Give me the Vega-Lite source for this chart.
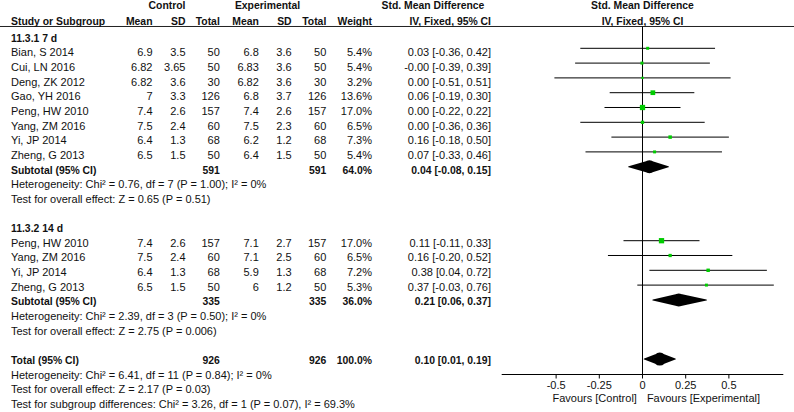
{
  "$schema": "https://vega.github.io/schema/vega-lite/v6.json",
  "width": 794,
  "height": 412,
  "padding": 0,
  "autosize": "none",
  "background": "white",
  "config": {"view": {"stroke": null}},
  "datasets": {
    "rows": [
      {"row": -1.15, "kind": "head", "name": "Study or Subgroup", "cm": "Mean", "csd": "SD", "cn": "Total", "em": "Mean", "esd": "SD", "en": "Total", "wt": "Weight", "ci": "IV, Fixed, 95% CI"},
      {"row": 0, "kind": "group", "name": "11.3.1 7 d"},
      {"row": 1, "kind": "study", "name": "Bian, S 2014", "cm": "6.9", "csd": "3.5", "cn": "50", "em": "6.8", "esd": "3.6", "en": "50", "wt": "5.4%", "ci": "0.03 [-0.36, 0.42]", "smd": 0.03, "lo": -0.36, "hi": 0.42, "w": 5.4},
      {"row": 2, "kind": "study", "name": "Cui, LN 2016", "cm": "6.82", "csd": "3.65", "cn": "50", "em": "6.83", "esd": "3.6", "en": "50", "wt": "5.4%", "ci": "-0.00 [-0.39, 0.39]", "smd": -0.003, "lo": -0.39, "hi": 0.39, "w": 5.4},
      {"row": 3, "kind": "study", "name": "Deng, ZK 2012", "cm": "6.82", "csd": "3.6", "cn": "30", "em": "6.82", "esd": "3.6", "en": "30", "wt": "3.2%", "ci": "0.00 [-0.51, 0.51]", "smd": 0.0, "lo": -0.51, "hi": 0.51, "w": 3.2},
      {"row": 4, "kind": "study", "name": "Gao, YH 2016", "cm": "7", "csd": "3.3", "cn": "126", "em": "6.8", "esd": "3.7", "en": "126", "wt": "13.6%", "ci": "0.06 [-0.19, 0.30]", "smd": 0.06, "lo": -0.19, "hi": 0.30, "w": 13.6},
      {"row": 5, "kind": "study", "name": "Peng, HW 2010", "cm": "7.4", "csd": "2.6", "cn": "157", "em": "7.4", "esd": "2.6", "en": "157", "wt": "17.0%", "ci": "0.00 [-0.22, 0.22]", "smd": 0.0, "lo": -0.22, "hi": 0.22, "w": 17.0},
      {"row": 6, "kind": "study", "name": "Yang, ZM 2016", "cm": "7.5", "csd": "2.4", "cn": "60", "em": "7.5", "esd": "2.3", "en": "60", "wt": "6.5%", "ci": "0.00 [-0.36, 0.36]", "smd": 0.0, "lo": -0.36, "hi": 0.36, "w": 6.5},
      {"row": 7, "kind": "study", "name": "Yi, JP 2014", "cm": "6.4", "csd": "1.3", "cn": "68", "em": "6.2", "esd": "1.2", "en": "68", "wt": "7.3%", "ci": "0.16 [-0.18, 0.50]", "smd": 0.16, "lo": -0.18, "hi": 0.50, "w": 7.3},
      {"row": 8, "kind": "study", "name": "Zheng, G 2013", "cm": "6.5", "csd": "1.5", "cn": "50", "em": "6.4", "esd": "1.5", "en": "50", "wt": "5.4%", "ci": "0.07 [-0.33, 0.46]", "smd": 0.07, "lo": -0.33, "hi": 0.46, "w": 5.4},
      {"row": 9, "kind": "pooled", "name": "Subtotal (95% CI)", "cn": "591", "en": "591", "wt": "64.0%", "ci": "0.04 [-0.08, 0.15]", "smd": 0.04, "lo": -0.08, "hi": 0.15},
      {"row": 10, "kind": "note", "name": "Heterogeneity: Chi² = 0.76, df = 7 (P = 1.00); I² = 0%"},
      {"row": 11, "kind": "note", "name": "Test for overall effect: Z = 0.65 (P = 0.51)"},
      {"row": 13, "kind": "group", "name": "11.3.2 14 d"},
      {"row": 14, "kind": "study", "name": "Peng, HW 2010", "cm": "7.4", "csd": "2.6", "cn": "157", "em": "7.1", "esd": "2.7", "en": "157", "wt": "17.0%", "ci": "0.11 [-0.11, 0.33]", "smd": 0.11, "lo": -0.11, "hi": 0.33, "w": 17.0},
      {"row": 15, "kind": "study", "name": "Yang, ZM 2016", "cm": "7.5", "csd": "2.4", "cn": "60", "em": "7.1", "esd": "2.5", "en": "60", "wt": "6.5%", "ci": "0.16 [-0.20, 0.52]", "smd": 0.16, "lo": -0.20, "hi": 0.52, "w": 6.5},
      {"row": 16, "kind": "study", "name": "Yi, JP 2014", "cm": "6.4", "csd": "1.3", "cn": "68", "em": "5.9", "esd": "1.3", "en": "68", "wt": "7.2%", "ci": "0.38 [0.04, 0.72]", "smd": 0.38, "lo": 0.04, "hi": 0.72, "w": 7.2},
      {"row": 17, "kind": "study", "name": "Zheng, G 2013", "cm": "6.5", "csd": "1.5", "cn": "50", "em": "6", "esd": "1.2", "en": "50", "wt": "5.3%", "ci": "0.37 [-0.03, 0.76]", "smd": 0.37, "lo": -0.03, "hi": 0.76, "w": 5.3},
      {"row": 18, "kind": "pooled", "name": "Subtotal (95% CI)", "cn": "335", "en": "335", "wt": "36.0%", "ci": "0.21 [0.06, 0.37]", "smd": 0.21, "lo": 0.06, "hi": 0.37},
      {"row": 19, "kind": "note", "name": "Heterogeneity: Chi² = 2.39, df = 3 (P = 0.50); I² = 0%"},
      {"row": 20, "kind": "note", "name": "Test for overall effect: Z = 2.75 (P = 0.006)"},
      {"row": 22, "kind": "pooled", "name": "Total (95% CI)", "cn": "926", "en": "926", "wt": "100.0%", "ci": "0.10 [0.01, 0.19]", "smd": 0.10, "lo": 0.01, "hi": 0.19},
      {"row": 23, "kind": "note", "name": "Heterogeneity: Chi² = 6.41, df = 11 (P = 0.84); I² = 0%"},
      {"row": 24, "kind": "note", "name": "Test for overall effect: Z = 2.17 (P = 0.03)"},
      {"row": 25, "kind": "note", "name": "Test for subgroup differences: Chi² = 3.26, df = 1 (P = 0.07), I² = 69.3%"}
    ],
    "heads": [
      {"row": -2.2, "control": "Control", "exp": "Experimental", "est": "Std. Mean Difference", "plot": "Std. Mean Difference"},
      {"row": -1.15, "plot": "IV, Fixed, 95% CI"}
    ],
    "favours": [
      {"row": 24.57, "ctrl": "Favours [Control]", "expt": "Favours [Experimental]"}
    ],
    "ticks": [
      {"v": -0.5, "label": "-0.5"},
      {"v": -0.25, "label": "-0.25"},
      {"v": 0, "label": "0"},
      {"v": 0.25, "label": "0.25"},
      {"v": 0.5, "label": "0.5"}
    ],
    "axisline": [
      {"from": -0.815, "to": 0.815}
    ]
  },
  "layer": [
    {
      "data": {"values": [{"line": "header rule"}]},
      "mark": {"type": "rule", "color": "#222", "strokeWidth": 1},
      "encoding": {
        "y": {"datum": -0.833, "type": "quantitative", "scale": {"domain": [-2.6416, 25.4814], "reverse": true, "nice": false, "zero": false}, "axis": null}
      }
    },
    {
      "data": {"values": [{"ref": 0}]},
      "mark": {"type": "rule", "color": "#000", "strokeWidth": 1},
      "encoding": {
        "x": {"field": "ref", "type": "quantitative", "scale": {"domain": [-0.815, 0.815], "range": [501.7, 783.3], "nice": false, "zero": false}, "axis": null},
        "y": {"datum": -0.833, "type": "quantitative", "scale": {"domain": [-2.6416, 25.4814], "reverse": true, "nice": false, "zero": false}, "axis": null},
        "y2": {"datum": 22.922}
      }
    },
    {
      "data": {"name": "axisline"},
      "mark": {"type": "rule", "color": "#000", "strokeWidth": 1},
      "encoding": {
        "x": {"field": "from", "type": "quantitative", "scale": {"domain": [-0.815, 0.815], "range": [501.7, 783.3], "nice": false, "zero": false}, "axis": null},
        "x2": {"field": "to"},
        "y": {"datum": 22.922, "type": "quantitative", "scale": {"domain": [-2.6416, 25.4814], "reverse": true, "nice": false, "zero": false}, "axis": null}
      }
    },
    {
      "data": {"name": "ticks"},
      "mark": {"type": "rule", "color": "#000", "strokeWidth": 1},
      "encoding": {
        "x": {"field": "v", "type": "quantitative", "scale": {"domain": [-0.815, 0.815], "range": [501.7, 783.3], "nice": false, "zero": false}, "axis": null},
        "y": {"datum": 22.922, "type": "quantitative", "scale": {"domain": [-2.6416, 25.4814], "reverse": true, "nice": false, "zero": false}, "axis": null},
        "y2": {"datum": 23.195}
      }
    },
    {
      "data": {"name": "ticks"},
      "mark": {"type": "text", "align": "center", "baseline": "middle", "font": "Liberation Sans", "color": "#111", "fontSize": 11},
      "encoding": {
        "x": {"field": "v", "type": "quantitative", "scale": {"domain": [-0.815, 0.815], "range": [501.7, 783.3], "nice": false, "zero": false}, "axis": null},
        "y": {"datum": 23.724, "type": "quantitative", "scale": {"domain": [-2.6416, 25.4814], "reverse": true, "nice": false, "zero": false}, "axis": null},
        "text": {"field": "label", "type": "nominal"}
      }
    },
    {
      "data": {"name": "rows"},
      "transform": [{"filter": "datum.kind === 'study'"}],
      "mark": {"type": "rule", "color": "#000", "strokeWidth": 1},
      "encoding": {
        "x": {"field": "lo", "type": "quantitative", "scale": {"domain": [-0.815, 0.815], "range": [501.7, 783.3], "nice": false, "zero": false}, "axis": null},
        "x2": {"field": "hi"},
        "y": {"field": "row", "type": "quantitative", "scale": {"domain": [-2.2635, 25.5745], "reverse": true, "nice": false, "zero": false}, "axis": null}
      }
    },
    {
      "data": {"name": "rows"},
      "transform": [{"filter": "datum.kind === 'study'"}],
      "mark": {"type": "point", "shape": "square", "filled": true, "color": "#00cc00", "opacity": 1, "strokeWidth": 0},
      "encoding": {
        "x": {"field": "smd", "type": "quantitative", "scale": {"domain": [-0.815, 0.815], "range": [501.7, 783.3], "nice": false, "zero": false}, "axis": null},
        "y": {"field": "row", "type": "quantitative", "scale": {"domain": [-2.2635, 25.5745], "reverse": true, "nice": false, "zero": false}, "axis": null},
        "size": {"field": "w", "type": "quantitative", "scale": {"domain": [0, 17], "range": [0, 28]}, "legend": null}
      }
    },
    {
      "data": {"name": "rows"},
      "transform": [{"filter": "datum.kind === 'pooled'"}, {"fold": ["lo", "smd", "hi"], "as": ["pt", "xv"]}],
      "mark": {"type": "trail", "color": "#000"},
      "encoding": {
        "x": {"field": "xv", "type": "quantitative", "scale": {"domain": [-0.815, 0.815], "range": [501.7, 783.3], "nice": false, "zero": false}, "axis": null},
        "y": {"field": "row", "type": "quantitative", "scale": {"domain": [-2.2635, 25.5745], "reverse": true, "nice": false, "zero": false}, "axis": null},
        "detail": {"field": "row", "type": "nominal"},
        "order": {"field": "xv", "type": "quantitative"},
        "size": {"condition": {"test": "datum.pt === 'smd'", "value": 13}, "value": 0}
      }
    },
    {
      "data": {"name": "rows"},
      "mark": {"type": "text", "align": "left", "baseline": "middle", "font": "Liberation Sans", "color": "#111",
        "fontSize": {"expr": "datum.kind === 'study' || datum.kind === 'note' ? 11 : 10.4"},
        "fontWeight": {"expr": "datum.kind === 'study' || datum.kind === 'note' ? 'normal' : 'bold'"}},
      "encoding": {
        "x": {"value": 11},
        "y": {"field": "row", "type": "quantitative", "scale": {"domain": [-2.6416, 25.4814], "reverse": true, "nice": false, "zero": false}, "axis": null},
        "text": {"field": "name", "type": "nominal"}
      }
    },
    {
      "data": {"name": "rows"},
      "transform": [{"filter": "isValid(datum.cm)"}],
      "mark": {"type": "text", "align": "right", "baseline": "middle", "font": "Liberation Sans", "color": "#111",
        "fontSize": {"expr": "datum.kind === 'study' ? 11 : 10.4"},
        "fontWeight": {"expr": "datum.kind === 'study' ? 'normal' : 'bold'"}},
      "encoding": {
        "x": {"value": 152.5},
        "y": {"field": "row", "type": "quantitative", "scale": {"domain": [-2.6416, 25.4814], "reverse": true, "nice": false, "zero": false}, "axis": null},
        "text": {"field": "cm", "type": "nominal"}
      }
    },
    {
      "data": {"name": "rows"},
      "transform": [{"filter": "isValid(datum.csd)"}],
      "mark": {"type": "text", "align": "right", "baseline": "middle", "font": "Liberation Sans", "color": "#111",
        "fontSize": {"expr": "datum.kind === 'study' ? 11 : 10.4"},
        "fontWeight": {"expr": "datum.kind === 'study' ? 'normal' : 'bold'"}},
      "encoding": {
        "x": {"value": 185.5},
        "y": {"field": "row", "type": "quantitative", "scale": {"domain": [-2.6416, 25.4814], "reverse": true, "nice": false, "zero": false}, "axis": null},
        "text": {"field": "csd", "type": "nominal"}
      }
    },
    {
      "data": {"name": "rows"},
      "transform": [{"filter": "isValid(datum.cn)"}],
      "mark": {"type": "text", "align": "right", "baseline": "middle", "font": "Liberation Sans", "color": "#111",
        "fontSize": {"expr": "datum.kind === 'study' ? 11 : 10.4"},
        "fontWeight": {"expr": "datum.kind === 'study' ? 'normal' : 'bold'"}},
      "encoding": {
        "x": {"value": 219.8},
        "y": {"field": "row", "type": "quantitative", "scale": {"domain": [-2.6416, 25.4814], "reverse": true, "nice": false, "zero": false}, "axis": null},
        "text": {"field": "cn", "type": "nominal"}
      }
    },
    {
      "data": {"name": "rows"},
      "transform": [{"filter": "isValid(datum.em)"}],
      "mark": {"type": "text", "align": "right", "baseline": "middle", "font": "Liberation Sans", "color": "#111",
        "fontSize": {"expr": "datum.kind === 'study' ? 11 : 10.4"},
        "fontWeight": {"expr": "datum.kind === 'study' ? 'normal' : 'bold'"}},
      "encoding": {
        "x": {"value": 258.8},
        "y": {"field": "row", "type": "quantitative", "scale": {"domain": [-2.6416, 25.4814], "reverse": true, "nice": false, "zero": false}, "axis": null},
        "text": {"field": "em", "type": "nominal"}
      }
    },
    {
      "data": {"name": "rows"},
      "transform": [{"filter": "isValid(datum.esd)"}],
      "mark": {"type": "text", "align": "right", "baseline": "middle", "font": "Liberation Sans", "color": "#111",
        "fontSize": {"expr": "datum.kind === 'study' ? 11 : 10.4"},
        "fontWeight": {"expr": "datum.kind === 'study' ? 'normal' : 'bold'"}},
      "encoding": {
        "x": {"value": 291.6},
        "y": {"field": "row", "type": "quantitative", "scale": {"domain": [-2.6416, 25.4814], "reverse": true, "nice": false, "zero": false}, "axis": null},
        "text": {"field": "esd", "type": "nominal"}
      }
    },
    {
      "data": {"name": "rows"},
      "transform": [{"filter": "isValid(datum.en)"}],
      "mark": {"type": "text", "align": "right", "baseline": "middle", "font": "Liberation Sans", "color": "#111",
        "fontSize": {"expr": "datum.kind === 'study' ? 11 : 10.4"},
        "fontWeight": {"expr": "datum.kind === 'study' ? 'normal' : 'bold'"}},
      "encoding": {
        "x": {"value": 326.3},
        "y": {"field": "row", "type": "quantitative", "scale": {"domain": [-2.6416, 25.4814], "reverse": true, "nice": false, "zero": false}, "axis": null},
        "text": {"field": "en", "type": "nominal"}
      }
    },
    {
      "data": {"name": "rows"},
      "transform": [{"filter": "isValid(datum.wt)"}],
      "mark": {"type": "text", "align": "right", "baseline": "middle", "font": "Liberation Sans", "color": "#111",
        "fontSize": {"expr": "datum.kind === 'study' ? 11 : 10.4"},
        "fontWeight": {"expr": "datum.kind === 'study' ? 'normal' : 'bold'"}},
      "encoding": {
        "x": {"value": 372},
        "y": {"field": "row", "type": "quantitative", "scale": {"domain": [-2.6416, 25.4814], "reverse": true, "nice": false, "zero": false}, "axis": null},
        "text": {"field": "wt", "type": "nominal"}
      }
    },
    {
      "data": {"name": "rows"},
      "transform": [{"filter": "isValid(datum.ci)"}],
      "mark": {"type": "text", "align": "right", "baseline": "middle", "font": "Liberation Sans", "color": "#111",
        "fontSize": {"expr": "datum.kind === 'study' ? 11 : 10.4"},
        "fontWeight": {"expr": "datum.kind === 'study' ? 'normal' : 'bold'"}},
      "encoding": {
        "x": {"value": 491},
        "y": {"field": "row", "type": "quantitative", "scale": {"domain": [-2.6416, 25.4814], "reverse": true, "nice": false, "zero": false}, "axis": null},
        "text": {"field": "ci", "type": "nominal"}
      }
    },
    {
      "data": {"name": "heads"},
      "transform": [{"filter": "isValid(datum.control)"}],
      "mark": {"type": "text", "align": "center", "baseline": "middle", "font": "Liberation Sans", "color": "#111", "fontSize": 10.4, "fontWeight": "bold"},
      "encoding": {
        "x": {"value": 167},
        "y": {"field": "row", "type": "quantitative", "scale": {"domain": [-2.6416, 25.4814], "reverse": true, "nice": false, "zero": false}, "axis": null},
        "text": {"field": "control", "type": "nominal"}
      }
    },
    {
      "data": {"name": "heads"},
      "transform": [{"filter": "isValid(datum.exp)"}],
      "mark": {"type": "text", "align": "center", "baseline": "middle", "font": "Liberation Sans", "color": "#111", "fontSize": 10.4, "fontWeight": "bold"},
      "encoding": {
        "x": {"value": 267.5},
        "y": {"field": "row", "type": "quantitative", "scale": {"domain": [-2.6416, 25.4814], "reverse": true, "nice": false, "zero": false}, "axis": null},
        "text": {"field": "exp", "type": "nominal"}
      }
    },
    {
      "data": {"name": "heads"},
      "transform": [{"filter": "isValid(datum.est)"}],
      "mark": {"type": "text", "align": "center", "baseline": "middle", "font": "Liberation Sans", "color": "#111", "fontSize": 10.4, "fontWeight": "bold"},
      "encoding": {
        "x": {"value": 433},
        "y": {"field": "row", "type": "quantitative", "scale": {"domain": [-2.6416, 25.4814], "reverse": true, "nice": false, "zero": false}, "axis": null},
        "text": {"field": "est", "type": "nominal"}
      }
    },
    {
      "data": {"name": "heads"},
      "transform": [{"filter": "isValid(datum.plot)"}],
      "mark": {"type": "text", "align": "center", "baseline": "middle", "font": "Liberation Sans", "color": "#111", "fontSize": 10.4, "fontWeight": "bold"},
      "encoding": {
        "x": {"datum": 0, "type": "quantitative", "scale": {"domain": [-0.815, 0.815], "range": [501.7, 783.3], "nice": false, "zero": false}, "axis": null},
        "y": {"field": "row", "type": "quantitative", "scale": {"domain": [-2.6416, 25.4814], "reverse": true, "nice": false, "zero": false}, "axis": null},
        "text": {"field": "plot", "type": "nominal"}
      }
    },
    {
      "data": {"name": "favours"},
      "mark": {"type": "text", "align": "right", "baseline": "middle", "font": "Liberation Sans", "color": "#111", "fontSize": 11, "dx": -5.6},
      "encoding": {
        "x": {"datum": 0, "type": "quantitative", "scale": {"domain": [-0.815, 0.815], "range": [501.7, 783.3], "nice": false, "zero": false}, "axis": null},
        "y": {"field": "row", "type": "quantitative", "scale": {"domain": [-2.6416, 25.4814], "reverse": true, "nice": false, "zero": false}, "axis": null},
        "text": {"field": "ctrl", "type": "nominal"}
      }
    },
    {
      "data": {"name": "favours"},
      "mark": {"type": "text", "align": "left", "baseline": "middle", "font": "Liberation Sans", "color": "#111", "fontSize": 11, "dx": 4.4},
      "encoding": {
        "x": {"datum": 0, "type": "quantitative", "scale": {"domain": [-0.815, 0.815], "range": [501.7, 783.3], "nice": false, "zero": false}, "axis": null},
        "y": {"field": "row", "type": "quantitative", "scale": {"domain": [-2.6416, 25.4814], "reverse": true, "nice": false, "zero": false}, "axis": null},
        "text": {"field": "expt", "type": "nominal"}
      }
    }
  ],
  "resolve": {"scale": {"y": "independent"}}
}
